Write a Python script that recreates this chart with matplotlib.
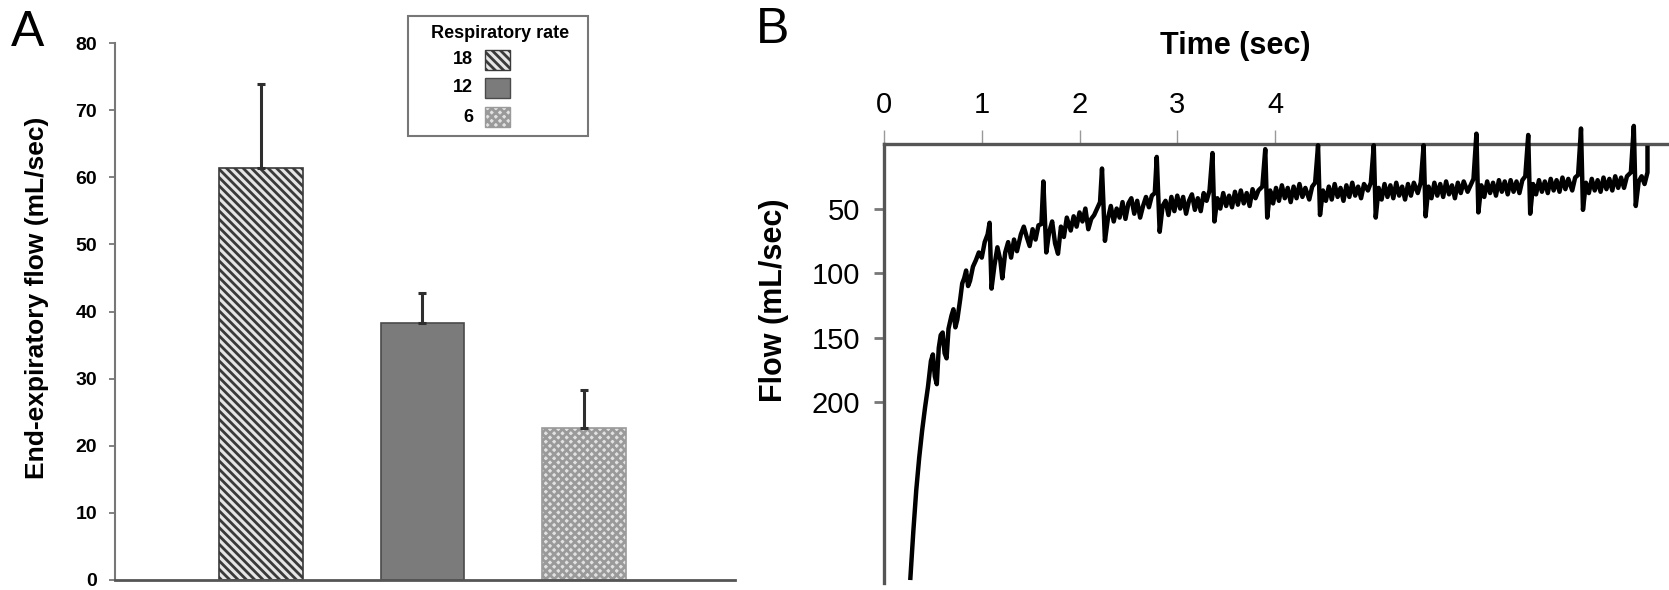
import numpy as np
import matplotlib.pyplot as plt
from matplotlib.patches import Rectangle

plt.rcParams['font.family'] = ['Liberation Sans', 'DejaVu Sans']
plt.rcParams['hatch.linewidth'] = 2.0

# Panel A: end-expiratory flow by respiratory rate
rates = ['18', '12', '6']
flow_mean = [61.4, 38.3, 22.7]
flow_err = [12.5, 4.4, 5.6]

# Panel B: flow trace (mL/sec) against time (sec)
time_s = [0.27, 0.30, 0.33, 0.36, 0.39, 0.42, 0.45, 0.48, 0.50, 0.52, 0.54, 0.56, 0.58, 0.60,
          0.62, 0.64, 0.66, 0.69, 0.71, 0.73, 0.75, 0.78, 0.80, 0.82, 0.84, 0.86, 0.88, 0.91,
          0.94, 0.97, 1.00, 1.03, 1.06, 1.08, 1.10, 1.13, 1.16, 1.19, 1.21, 1.24, 1.27, 1.30,
          1.33, 1.36, 1.40, 1.43, 1.46, 1.49, 1.52, 1.55, 1.58, 1.61, 1.63, 1.66, 1.69, 1.72,
          1.75, 1.78, 1.81, 1.84, 1.87, 1.91, 1.94, 1.97, 2.00, 2.03, 2.06, 2.09, 2.12, 2.15,
          2.18, 2.21, 2.23, 2.26, 2.29, 2.32, 2.35, 2.38, 2.41, 2.44, 2.47, 2.50, 2.53, 2.56,
          2.59, 2.62, 2.65, 2.68, 2.71, 2.74, 2.77, 2.79, 2.82, 2.85, 2.88, 2.91, 2.94, 2.97,
          3.00, 3.03, 3.06, 3.09, 3.12, 3.15, 3.18, 3.21, 3.24, 3.27, 3.30, 3.33, 3.36, 3.38,
          3.41, 3.44, 3.47, 3.50, 3.53, 3.56, 3.59, 3.62, 3.65, 3.68, 3.71, 3.74, 3.77, 3.80,
          3.83, 3.87, 3.90, 3.92, 3.95, 3.98, 4.01, 4.04, 4.07, 4.10, 4.13, 4.16, 4.19, 4.22,
          4.25, 4.28, 4.31, 4.35, 4.38, 4.41, 4.44, 4.46, 4.49, 4.52, 4.55, 4.58, 4.61, 4.64,
          4.67, 4.70, 4.73, 4.76, 4.79, 4.82, 4.85, 4.88, 4.91, 4.95, 4.98, 5.01, 5.03, 5.06,
          5.09, 5.12, 5.15, 5.18, 5.21, 5.24, 5.27, 5.30, 5.33, 5.36, 5.39, 5.42, 5.46, 5.49,
          5.52, 5.54, 5.57, 5.60, 5.63, 5.66, 5.69, 5.72, 5.75, 5.78, 5.81, 5.84, 5.87, 5.90,
          5.93, 5.97, 6.00, 6.03, 6.06, 6.08, 6.11, 6.14, 6.17, 6.20, 6.23, 6.26, 6.29, 6.32,
          6.35, 6.38, 6.41, 6.44, 6.47, 6.50, 6.53, 6.56, 6.59, 6.61, 6.64, 6.67, 6.70, 6.73,
          6.76, 6.79, 6.82, 6.85, 6.88, 6.91, 6.94, 6.97, 7.00, 7.04, 7.07, 7.10, 7.13, 7.15,
          7.18, 7.21, 7.24, 7.27, 7.30, 7.33, 7.36, 7.39, 7.42, 7.45, 7.48, 7.51, 7.54, 7.57,
          7.60, 7.64, 7.67, 7.69, 7.72, 7.75, 7.78, 7.81, 7.81]
flow_ml = [336, 300, 268, 243, 222, 204, 188, 168, 163, 180, 186, 158, 148, 146,
           162, 166, 143, 133, 128, 142, 136, 120, 108, 104, 98, 110, 106, 95,
           90, 84, 88, 76, 70, 61, 112, 94, 80, 90, 104, 84, 76, 88,
           74, 83, 70, 64, 72, 79, 66, 74, 63, 62, 29, 84, 68, 60,
           77, 85, 64, 72, 57, 67, 56, 64, 53, 60, 50, 66, 58, 55,
           50, 45, 19, 75, 58, 48, 60, 50, 57, 45, 58, 46, 42, 54,
           44, 57, 48, 41, 49, 40, 38, 10, 68, 48, 44, 55, 41, 52,
           40, 50, 41, 54, 44, 39, 51, 42, 52, 38, 44, 36, 7, 60,
           42, 50, 38, 48, 40, 49, 37, 47, 36, 46, 38, 48, 35, 42,
           36, 33, 4, 57, 36, 46, 34, 44, 32, 42, 34, 45, 33, 42,
           31, 41, 34, 43, 33, 30, 1, 55, 36, 44, 33, 43, 31, 41,
           34, 44, 32, 41, 30, 40, 33, 42, 31, 36, 30, 1, 57, 34,
           43, 31, 41, 32, 42, 30, 40, 33, 43, 31, 40, 30, 38, 30,
           1, 56, 33, 42, 30, 40, 31, 41, 29, 39, 32, 42, 30, 38,
           29, 37, 32, 27, -8, 53, 32, 41, 29, 38, 30, 40, 28, 37,
           29, 39, 28, 37, 29, 38, 28, 25, -7, 54, 31, 39, 28, 37,
           29, 38, 27, 36, 28, 37, 26, 35, 27, 36, 26, 24, -12, 51,
           30, 38, 27, 36, 28, 37, 26, 35, 27, 36, 25, 34, 26, 34,
           25, 22, -14, 48, 29, 25, 31, 22, 3]
time_ticks = [0, 1, 2, 3, 4]
flow_ticks = [50, 100, 150, 200]

bar_faces = ['#e6e6e6', '#7b7b7b', '#e2e2e2']
bar_edges = ['#3a3a3a', '#4a4a4a', '#9a9a9a']
bar_hatches = ['\\\\\\\\', '', 'xxxx']

W, H = 1669, 590
fig = plt.figure(figsize=(W / 100, H / 100), dpi=100)

# ---------------- panel A ----------------
axA = fig.add_axes([115 / W, 1 - 580 / H, (735 - 115) / W, (580 - 43) / H])
xpos = np.arange(1, len(rates) + 1)
bars = axA.bar(xpos, flow_mean, width=0.514, color=bar_faces, edgecolor=bar_edges,
               linewidth=1.2, zorder=2)
for b, h in zip(bars, bar_hatches):
    b.set_hatch(h)
axA.errorbar(xpos, flow_mean, yerr=[np.zeros(len(flow_err)), flow_err], fmt='none',
             ecolor='#2e2e2e', elinewidth=2.2, capsize=3, capthick=2.2, zorder=3)
axA.set_xlim(0.096, 3.935)
axA.set_ylim(0, 80)
axA.set_yticks(np.arange(0, 81, 10))
axA.set_xticks([])
for s in ['top', 'right']:
    axA.spines[s].set_visible(False)
axA.spines['left'].set_color('#777777')
axA.spines['left'].set_linewidth(1.5)
axA.spines['bottom'].set_color('#555555')
axA.spines['bottom'].set_linewidth(2)
axA.tick_params(axis='y', length=4, width=1.3, color='#777777', pad=9, labelsize=14)
for lab in axA.get_yticklabels():
    lab.set_fontweight('bold')

fig.text(37 / W, 1 - 298 / H, 'End-expiratory flow (mL/sec)', rotation=90,
         ha='center', va='center', fontsize=19, fontweight='bold')
fig.text(28 / W, 1 - 33 / H, 'A', fontsize=36, ha='center', va='center')

# legend box drawn by hand
fig.add_artist(Rectangle((408 / W, 1 - 136 / H), 180 / W, 120 / H, transform=fig.transFigure,
                         facecolor='white', edgecolor='#777777', linewidth=1.5))
fig.text(500 / W, 1 - 33 / H, 'Respiratory rate', ha='center', va='center',
         fontsize=13, fontweight='bold')
for i, r in enumerate(rates):
    yc = [60, 88, 117][i]
    fig.text(473 / W, 1 - yc / H, r, ha='right', va='center', fontsize=13, fontweight='bold')
    fig.add_artist(Rectangle((485 / W, 1 - (yc + 10) / H), 25 / W, 20 / H,
                             transform=fig.transFigure, facecolor=bar_faces[i],
                             edgecolor=bar_edges[i], hatch=bar_hatches[i], linewidth=1))

# ---------------- panel B ----------------
axB = fig.add_axes([884 / W, 1 - 583 / H, (W - 884) / W, (583 - 144) / H])
axB.plot(time_s, flow_ml, color='black', linewidth=3.2, clip_on=False, zorder=3,
         solid_joinstyle='round')
axB.set_xlim(0, 8.03)
axB.set_ylim(340, 0)
axB.xaxis.tick_top()
axB.set_xticks(time_ticks)
axB.set_yticks(flow_ticks)
for s in ['bottom', 'right']:
    axB.spines[s].set_visible(False)
for s in ['top', 'left']:
    axB.spines[s].set_color('#555555')
    axB.spines[s].set_linewidth(2.4)
axB.tick_params(axis='x', length=10, width=1, color='#999999', pad=8, labelsize=21)
axB.tick_params(axis='y', length=7, width=2, color='#777777', pad=10, labelsize=21)

fig.text(1235 / W, 1 - 46 / H, 'Time (sec)', ha='center', va='center',
         fontsize=22, fontweight='bold')
fig.text(774 / W, 1 - 300 / H, 'Flow (mL/sec)', rotation=90, ha='center', va='center',
         fontsize=22, fontweight='bold')
fig.text(773 / W, 1 - 30 / H, 'B', fontsize=36, ha='center', va='center')

fig.savefig('out.png', dpi=100)
